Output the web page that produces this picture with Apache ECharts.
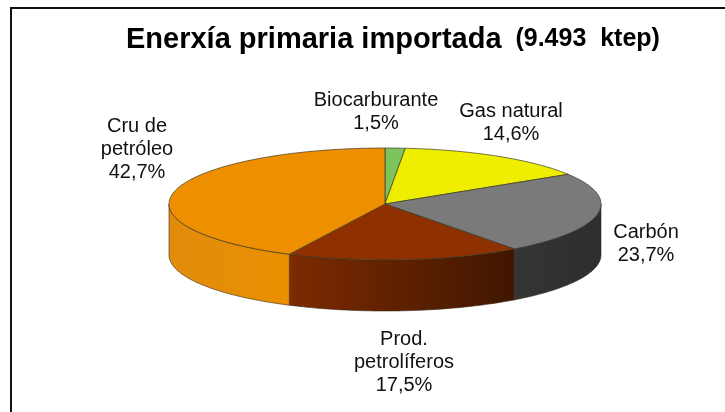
<!DOCTYPE html>
<html><head><meta charset="utf-8">
<style>html,body{margin:0;padding:0;background:#fff}#c{width:725px;height:412px}</style>
<script src="https://cdn.jsdelivr.net/npm/echarts@6/dist/echarts.min.js"></script>
</head><body><div id="c"></div>
<script>
const categories = ['Biocarburante', 'Gas natural', 'Carbón', 'Prod.\npetrolíferos', 'Cru de\npetróleo'];
const values = [1.5, 14.6, 23.7, 17.5, 42.7];
const topColors = ['#7dc45c', '#f0ee00', '#7a7a7a', '#8f3000', '#ee8f00'];
const sideStops = [
  ['#5f9a45', '#5f9a45'],
  ['#b8b600', '#b8b600'],
  ['#353535', '#2e2e2e'],
  ['#7d2b00', '#401600'],
  ['#e08c0c', '#ea9000']
];
const labelSpots = [[376, 112], [511, 123], [646, 244], [404, 362], [137, 149]];

const chart = echarts.init(document.getElementById('c'), null, {renderer: 'canvas'});
const CX = 385, CY = 204, RX = 216, RY = 56, DEPTH = 51;
const total = values.reduce((a, b) => a + b, 0);
const starts = [];
values.reduce((acc, v, i) => { starts[i] = acc; return acc + v; }, 0);
const pt = (deg, dy) => {
  const r = deg * Math.PI / 180;
  return [CX + RX * Math.sin(r), CY - RY * Math.cos(r) + (dy || 0)];
};
function renderItem(params, api) {
  const i = params.dataIndex;
  const a0 = starts[i] / total * 360, a1 = a0 + api.value(0) / total * 360;
  const children = [];
  // visible wall: the part of the rim facing the viewer (90deg to 270deg)
  const s0 = Math.max(a0, 90), s1 = Math.min(a1, 270);
  if (s1 > s0) {
    const pts = [];
    for (let d = s0; d <= s1; d += 1) pts.push(pt(d));
    pts.push(pt(s1));
    pts.push(pt(s1, DEPTH));
    for (let d = s1; d >= s0; d -= 1) pts.push(pt(d, DEPTH));
    pts.push(pt(s0, DEPTH));
    children.push({
      type: 'polygon', shape: {points: pts},
      style: {
        fill: new echarts.graphic.LinearGradient(0, 0, 1, 0, [
          {offset: 0, color: sideStops[i][0]}, {offset: 1, color: sideStops[i][1]}
        ]),
        stroke: '#3a2a1a', lineWidth: 0.6
      }
    });
  }
  const top = [[CX, CY]];
  for (let d = a0; d < a1; d += 1) top.push(pt(d));
  top.push(pt(a1));
  children.push({
    type: 'polygon', shape: {points: top},
    style: {fill: topColors[i], stroke: '#3a3a2a', lineWidth: 0.7}
  });
  const spot = labelSpots[i];
  children.push({
    type: 'text', z2: 10,
    style: {
      x: spot[0], y: spot[1], align: 'center', verticalAlign: 'middle',
      text: categories[i] + '\n' + api.value(0).toFixed(1).replace('.', ',') + '%',
      font: '20px "Liberation Sans"', lineHeight: 23, fill: '#111'
    }
  });
  return {type: 'group', children};
}
chart.setOption({
  animation: false,
  backgroundColor: '#fff',
  graphic: [{
    type: 'polyline', silent: true,
    shape: {points: [[11, 412], [11, 8], [725, 8]]},
    style: {stroke: '#111', lineWidth: 2, fill: 'none'}
  }],
  title: {
    left: 121, top: 20,
    text: '{a|Enerxía primaria importada}{b|  (9.493  ktep)}',
    textStyle: {rich: {
      a: {fontFamily: 'Liberation Sans', fontWeight: 'bold', fontSize: 29, color: '#000'},
      b: {fontFamily: 'Liberation Sans', fontWeight: 'bold', fontSize: 25, color: '#000'}
    }}
  },
  series: [{
    type: 'custom', coordinateSystem: 'none', renderItem,
    data: values.map(v => [v])
  }]
});
</script></body></html>
